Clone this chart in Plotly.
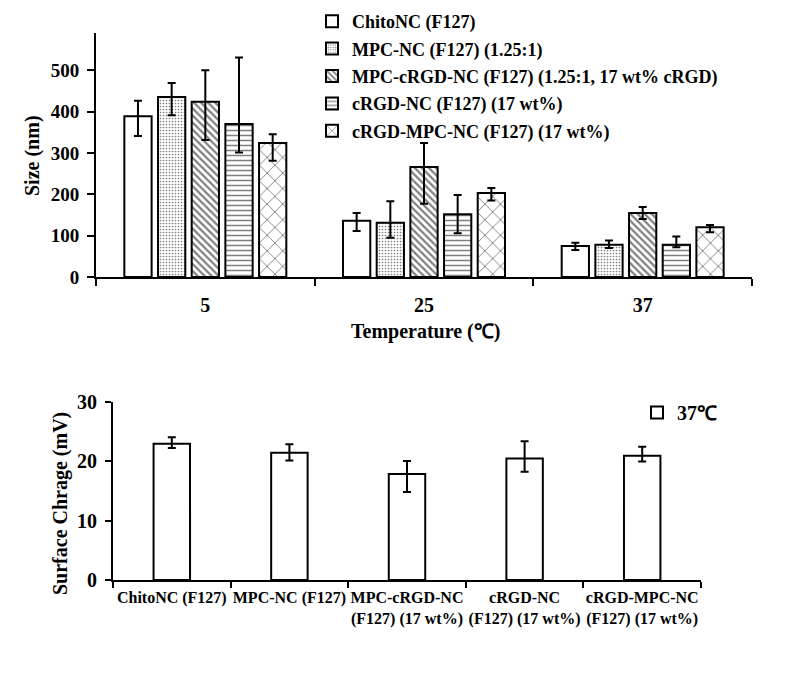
import plotly.graph_objects as go

# ---------------- data: top panel (size vs temperature) ----------------
temperatures = ["5", "25", "37"]

names_top = [
    "ChitoNC (F127)",
    "MPC-NC (F127) (1.25:1)",
    "MPC-cRGD-NC (F127) (1.25:1, 17 wt% cRGD)",
    "cRGD-NC (F127) (17 wt%)",
    "cRGD-MPC-NC (F127) (17 wt%)",
]
size_chito = [389, 136, 75]
size_mpc = [435, 131, 78]
size_mpc_crgd = [424, 266, 155]
size_crgd = [370, 152, 78]
size_crgd_mpc = [324, 203, 120]

err_up_chito = [37, 19, 8]
err_dn_chito = [48, 25, 10]
err_up_mpc = [34, 52, 10]
err_dn_mpc = [44, 36, 8]
err_up_mpc_crgd = [76, 58, 14]
err_dn_mpc_crgd = [93, 89, 15]
err_up_crgd = [161, 46, 20]
err_dn_crgd = [69, 46, 6]
err_up_crgd_mpc = [21, 12, 6]
err_dn_crgd_mpc = [43, 18, 12]

# ---------------- data: bottom panel (surface charge at 37 C) ----------------
formulations = [
    "ChitoNC (F127)",
    "MPC-NC (F127)",
    "MPC-cRGD-NC<br>(F127) (17 wt%)",
    "cRGD-NC<br>(F127) (17 wt%)",
    "cRGD-MPC-NC<br>(F127) (17 wt%)",
]
charge = [22.9, 21.4, 17.8, 20.4, 20.9]
charge_err_up = [1.1, 1.4, 2.2, 2.9, 1.5]
charge_err_dn = [0.7, 1.3, 3.0, 2.2, 1.0]

# ---------------- styling ----------------
FONT = "Liberation Serif"
patterns = [
    dict(shape="", fgcolor="black", bgcolor="white"),
    dict(shape=".", fgcolor="black", bgcolor="white", size=3, solidity=0.25),
    dict(shape="\\", fgcolor="black", bgcolor="white", size=5, solidity=0.45),
    dict(shape="-", fgcolor="black", bgcolor="white", size=5, solidity=0.3),
    dict(shape="x", fgcolor="black", bgcolor="white", size=11, solidity=0.16),
]

top_values = [size_chito, size_mpc, size_mpc_crgd, size_crgd, size_crgd_mpc]
top_up = [err_up_chito, err_up_mpc, err_up_mpc_crgd, err_up_crgd, err_up_crgd_mpc]
top_dn = [err_dn_chito, err_dn_mpc, err_dn_mpc_crgd, err_dn_crgd, err_dn_crgd_mpc]

fig = go.Figure()
for i, name in enumerate(names_top):
    fig.add_trace(go.Bar(
        x=temperatures, y=top_values[i], name=name,
        legendgroup=f"g{i}",
        marker=dict(color="white", line=dict(color="black", width=2), pattern=patterns[i]),
        error_y=dict(type="data", symmetric=False, array=top_up[i], arrayminus=top_dn[i],
                     color="black", thickness=2, width=4),
        xaxis="x", yaxis="y", legend="legend",
    ))

fig.add_trace(go.Bar(
    x=formulations, y=charge, name="37℃", width=0.31,
    marker=dict(color="white", line=dict(color="black", width=2)),
    error_y=dict(type="data", symmetric=False, array=charge_err_up, arrayminus=charge_err_dn,
                 color="black", thickness=2, width=4),
    xaxis="x2", yaxis="y2", legend="legend2",
))

W, H = 794, 674
OFF = 8  # page body margin in the browser
def px_x(p): return (p - OFF) / W
def px_y(p): return 1 - (p - OFF) / H

axis_common = dict(showgrid=False, zeroline=False, showline=True, linecolor="black",
                   linewidth=2, ticks="outside", tickcolor="black", tickwidth=2,
                   mirror=False, automargin=False)

fig.update_layout(
    width=W, height=H,
    margin=dict(l=0, r=0, t=0, b=0, autoexpand=False),
    paper_bgcolor="white", plot_bgcolor="white",
    font=dict(family=FONT, color="black", size=18, weight="bold"),
    barmode="group", bargap=0.23, bargroupgap=0.19,
    xaxis=dict(axis_common, domain=[px_x(96), px_x(752)], anchor="y", type="category",
               tickson="boundaries", ticklen=7, tickfont=dict(size=20),
               ticklabelstandoff=9),
    yaxis=dict(axis_common, domain=[px_y(277), px_y(33)], anchor="x", range=[0, 590],
               dtick=100, ticklen=7, tickfont=dict(size=19), ticklabelstandoff=4),
    xaxis2=dict(axis_common, domain=[px_x(113), px_x(701)], anchor="y2", type="category",
                tickson="boundaries", ticklen=6, tickfont=dict(size=16), tickangle=0,
                ticklabelstandoff=2),
    yaxis2=dict(axis_common, domain=[px_y(580), px_y(401.5)], anchor="x2", range=[0, 30],
                dtick=10, ticklen=6, tickfont=dict(size=20), ticklabelstandoff=4),
    legend=dict(x=px_x(312), y=px_y(3), xanchor="left", yanchor="top",
                font=dict(size=18), tracegroupgap=1, itemwidth=30,
                bgcolor="rgba(0,0,0,0)"),
    legend2=dict(x=px_x(637), y=px_y(393), xanchor="left", yanchor="top",
                 font=dict(size=20), itemwidth=30, bgcolor="rgba(0,0,0,0)"),
    annotations=[
        dict(text="Temperature (℃)", xref="paper", yref="paper",
             x=px_x(425), y=px_y(332), showarrow=False, font=dict(size=20),
             xanchor="center", yanchor="middle"),
        dict(text="Size (nm)", xref="paper", yref="paper", textangle=-90,
             x=px_x(32), y=px_y(156), showarrow=False, font=dict(size=20),
             xanchor="center", yanchor="middle"),
        dict(text="Surface Chrage (mV)", xref="paper", yref="paper", textangle=-90,
             x=px_x(60), y=px_y(504), showarrow=False, font=dict(size=20),
             xanchor="center", yanchor="middle"),
    ],
)

fig.write_html("out.html")
